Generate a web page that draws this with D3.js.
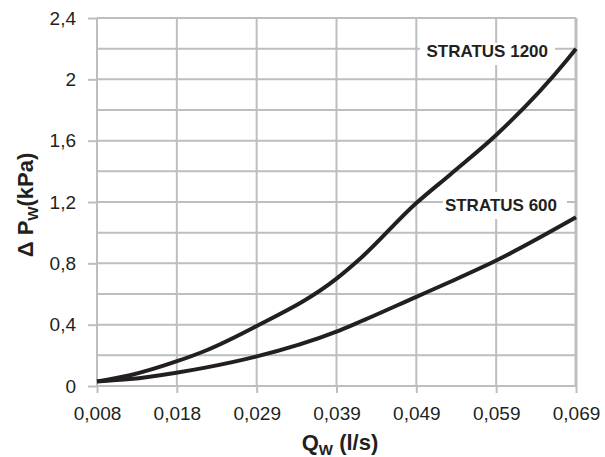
<!DOCTYPE html>
<html>
<head>
<meta charset="utf-8">
<script src="https://cdnjs.cloudflare.com/ajax/libs/d3/7.8.5/d3.min.js"></script>
<style>
  body { margin: 0; background: #fff; }
  text { font-family: "Liberation Sans", Arial, sans-serif; fill: #231f20; }
</style>
</head>
<body>
<div id="chart"></div>
<script>
// flow rate (l/s) and pressure drop (kPa)
var q1200 = [0.008, 0.0122, 0.0181, 0.0218, 0.0281, 0.0385, 0.0415, 0.0486, 0.053, 0.0589, 0.0679, 0.069];
var dp1200 = [0.03, 0.07, 0.16, 0.23, 0.385, 0.70, 0.83, 1.19, 1.38, 1.64, 2.13, 2.2];
var q600 = [0.008, 0.0122, 0.0181, 0.0218, 0.0281, 0.0385, 0.0411, 0.0486, 0.053, 0.0589, 0.069];
var dp600 = [0.03, 0.045, 0.087, 0.12, 0.19, 0.355, 0.41, 0.58, 0.68, 0.82, 1.1];
var xTickLabels = ["0,008", "0,018", "0,029", "0,039", "0,049", "0,059", "0,069"];
var yTicks = [0, 0.4, 0.8, 1.2, 1.6, 2, 2.4];
var yTickLabels = ["0", "0,4", "0,8", "1,2", "1,6", "2", "2,4"];

var width = 605, height = 457;
var plotL = 97, plotR = 576, plotT = 18, plotB = 386;

var x = d3.scaleLinear().domain([0.008, 0.069]).range([plotL, plotR]);
var y = d3.scaleLinear().domain([0, 2.4]).range([plotB, plotT]);

// x ticks sit at equal steps, labels are rounded
var xTicks = xTickLabels.map(function(d, i) { return 0.008 + i * (0.069 - 0.008) / 6; });
var yGrid = d3.range(0, 13).map(function(i) { return i * 0.2; });

var svg = d3.select('#chart').append('svg')
  .attr('width', width)
  .attr('height', height);

var grid = '#bcbec0';

// horizontal gridlines
svg.append('g').selectAll('line')
  .data(yGrid)
  .enter().append('line')
  .attr('x1', plotL).attr('x2', plotR)
  .attr('y1', function(d) { return y(d); })
  .attr('y2', function(d) { return y(d); })
  .style('stroke', grid).style('stroke-width', 2);

// vertical gridlines
svg.append('g').selectAll('line')
  .data(xTicks)
  .enter().append('line')
  .attr('x1', function(d) { return x(d); })
  .attr('x2', function(d) { return x(d); })
  .attr('y1', plotT).attr('y2', plotB)
  .style('stroke', grid)
  .style('stroke-width', function(d, i) { return i == 6 ? 3 : 2; });

// axes (ticks + labels)
var yAxis = d3.axisLeft(y).tickValues(yTicks).tickSize(9).tickPadding(12)
  .tickFormat(function(d, i) { return yTickLabels[i]; });
var xAxis = d3.axisBottom(x).tickValues(xTicks).tickSize(7).tickPadding(14)
  .tickFormat(function(d, i) { return xTickLabels[i]; });

var gy = svg.append('g').attr('transform', 'translate(' + plotL + ',0)').call(yAxis);
var gx = svg.append('g').attr('transform', 'translate(0,' + plotB + ')').call(xAxis);
[gx, gy].forEach(function(g) {
  g.select('.domain').remove();
  g.selectAll('line').style('stroke', grid).style('stroke-width', 2);
  g.selectAll('text').style('font-size', '19px')
    .style('font-family', '"Liberation Sans", Arial, sans-serif').style('fill', '#231f20');
});

// curves
var line = d3.line()
  .x(function(d) { return x(d[0]); })
  .y(function(d) { return y(d[1]); })
  .curve(d3.curveMonotoneX);

var series = [
  { name: 'STRATUS 1200', pts: d3.zip(q1200, dp1200) },
  { name: 'STRATUS 600', pts: d3.zip(q600, dp600) }
];

// curve labels with white box behind
var labels = [
  { text: 'STRATUS 1200', xr: 548, yv: 2.2, dy: 4, box: [420, 555, 43, 65] },
  { text: 'STRATUS 600', xr: 557, yv: 1.2, dy: 5, box: [443, 567, 192, 219] }
];
labels.forEach(function(l) {
  svg.append('rect')
    .attr('x', l.box[0]).attr('y', l.box[2])
    .attr('width', l.box[1] - l.box[0]).attr('height', l.box[3] - l.box[2])
    .style('fill', '#fff');
  svg.append('text')
    .attr('x', l.xr).attr('y', y(l.yv) + l.dy)
    .attr('text-anchor', 'end')
    .attr('dominant-baseline', 'middle')
    .style('font-size', '17px').style('font-weight', 'bold')
    .text(l.text);
});

svg.append('g').selectAll('path')
  .data(series)
  .enter().append('path')
  .attr('d', function(d) { return line(d.pts); })
  .style('fill', 'none')
  .style('stroke', '#231f20')
  .style('stroke-width', 4)
  .style('stroke-linecap', 'butt');

// axis titles
var xt = svg.append('text')
  .attr('x', 340).attr('y', 450)
  .attr('text-anchor', 'middle')
  .style('font-size', '22px').style('font-weight', 'bold');
xt.append('tspan').text('Q');
xt.append('tspan').attr('dy', 5).style('font-size', '15px').text('W');
xt.append('tspan').attr('dy', -5).text(' (l/s)');

var yt = svg.append('text')
  .attr('transform', 'translate(33,' + 205 + ') rotate(-90)')
  .attr('text-anchor', 'middle')
  .style('font-size', '22px').style('font-weight', 'bold');
yt.append('tspan').text('\u0394 P');
yt.append('tspan').attr('dy', 5).style('font-size', '15px').text('W');
yt.append('tspan').attr('dy', -5).text('(kPa)');
</script>
</body>
</html>
